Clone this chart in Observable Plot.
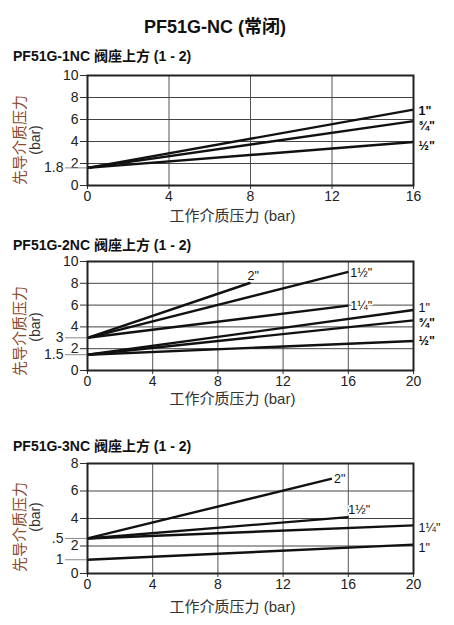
<!DOCTYPE html>
<html>
<head>
<meta charset="utf-8">
<script src="https://cdn.jsdelivr.net/npm/d3@7"></script>
<script src="https://cdn.jsdelivr.net/npm/@observablehq/plot@0.6"></script>
<style>
  body { margin: 0; background: #fff; }
  #page { position: relative; width: 454px; height: 625px; overflow: hidden;
          font-family: "Liberation Sans", "Noto Sans CJK SC", sans-serif; color: #111; }
  #page svg { position: absolute; left: 0; background: transparent; overflow: visible; }
  .title { position: absolute; left: 0; width: 430px; text-align: center; top: 12px;
           font-size: 18px; font-weight: bold; }
  .sub { position: absolute; left: 13px; font-size: 14px; font-weight: bold; }
  .yt { position: absolute; white-space: nowrap; transform: translate(-50%, -50%) rotate(-90deg);
        line-height: 1; }
  .yt.cn { font-size: 15px; color: #8a4a2c; }
  .yt.unit { font-size: 14px; color: #333; }
</style>
</head>
<body>
<div id="page">
  <div class="title">PF51G-NC (常闭)</div>
  <div class="sub" style="top:45px">PF51G-1NC 阀座上方 (1 - 2)</div>
  <div class="sub" style="top:234px">PF51G-2NC 阀座上方 (1 - 2)</div>
  <div class="sub" style="top:435px">PF51G-3NC 阀座上方 (1 - 2)</div>
</div>
<script>
// PF51G-1NC
const c1Sizes = ['1"', '¾"', '½"'];
const c1StartY = [1.6, 1.6, 1.6];
const c1EndX = [16, 16, 16];
const c1EndY = [6.9, 5.85, 3.95];
const c1XTicks = [0, 4, 8, 12, 16];
const c1YTicks = [0, 2, 4, 6, 8, 10];
const c1MarkTicks = [1.6];
const c1MarkLabels = ["1.8"];

// PF51G-2NC
const c2Sizes = ['2"', '1½"', '1¼"', '1"', '¾"', '½"'];
const c2StartY = [3, 3, 3, 1.45, 1.45, 1.45];
const c2EndX = [10, 16, 16, 20, 20, 20];
const c2EndY = [8.05, 9.05, 5.95, 5.55, 4.6, 2.7];
const c2XTicks = [0, 4, 8, 12, 16, 20];
const c2YTicks = [0, 2, 4, 6, 8, 10];
const c2MarkTicks = [3, 1.45];
const c2MarkLabels = ["3", "1.5"];

// PF51G-3NC
const c3Sizes = ['2"', '1½"', '1¼"', '1"'];
const c3StartY = [2.55, 2.55, 2.55, 1.0];
const c3EndX = [15, 16, 20, 20];
const c3EndY = [6.9, 4.1, 3.5, 2.1];
const c3XTicks = [0, 4, 8, 12, 16, 20];
const c3YTicks = [0, 2, 4, 6, 8];
const c3MarkTicks = [2.55, 1];
const c3MarkLabels = [".5", "1"];

const yTitle = "先导介质压力";
const yUnit = "(bar)";
const xTitle = "工作介质压力 (bar)";
const font = '"Liberation Sans", "Noto Sans CJK SC", sans-serif';

function chart(c) {
  const rows = c.sizes.map((s, i) => ({size: s, x0: 0, y0: c.startY[i], x1: c.endX[i], y1: c.endY[i]}));
  const labelMarks = rows.map((r, i) => Plot.text([r], {
    x: "x1", y: "y1", text: "size",
    textAnchor: "start", dx: c.offsets[i][0], dy: c.offsets[i][1],
    fontSize: 12.5, fontWeight: c.bold[i] ? "bold" : "normal", fill: "#111",
    stroke: r.x1 < c.xMax ? "white" : null, strokeWidth: 3
  }));
  return Plot.plot({
    width: 454,
    height: 10 + c.frameH + 48,
    marginLeft: 87, marginRight: 41, marginTop: 10, marginBottom: 48,
    x: {domain: [0, c.xMax]},
    y: {domain: [0, c.yMax]},
    style: {fontFamily: font, fontSize: "14px", color: "#222", background: "transparent", overflow: "visible"},
    marks: [
      Plot.gridX(c.xTicks, {stroke: "#555", strokeOpacity: 1}),
      Plot.gridY(c.yTicks, {stroke: "#444", strokeOpacity: 1}),
      Plot.axisX(c.xTicks, {tickSize: 4, tickPadding: 2, label: null, fontSize: 14, stroke: "#333"}),
      Plot.axisY(c.yTicks, {tickSize: 7, tickPadding: 2, label: null, fontSize: 14, stroke: "#333"}),
      Plot.axisY(c.markTicks, {tickSize: 22, tickPadding: 2, label: null, fontSize: 14, stroke: "#888",
        tickFormat: d => c.markLabels[c.markTicks.indexOf(d)]}),
      Plot.link(rows, {x1: "x0", y1: "y0", x2: "x1", y2: "y1", stroke: "#111", strokeWidth: 2.4}),
      Plot.frame({stroke: "#222", strokeWidth: 2}),
      ...labelMarks,
      Plot.text([xTitle], {frameAnchor: "bottom", text: d => d, dx: -18, dy: c.xt,
        fontSize: 15, fill: "#333"})
    ]
  });
}

const configs = [
  {top: 65, frameH: 110, xMax: 16, yMax: 10, sizes: c1Sizes, startY: c1StartY, endX: c1EndX, endY: c1EndY,
   xTicks: c1XTicks, yTicks: c1YTicks, markTicks: c1MarkTicks, markLabels: c1MarkLabels,
   offsets: [[5, 1], [5, 5], [5, 4]], bold: [true, true, true], yt: [140, 140], xt: 35},
  {top: 251, frameH: 109, xMax: 20, yMax: 10, sizes: c2Sizes, startY: c2StartY, endX: c2EndX, endY: c2EndY,
   xTicks: c2XTicks, yTicks: c2YTicks, markTicks: c2MarkTicks, markLabels: c2MarkLabels,
   offsets: [[-3, -7], [2, 1], [2, 0], [5, -2], [5, 3], [5, 0]], bold: [false, false, false, false, true, true],
   yt: [331, 327], xt: 33},
  {top: 453, frameH: 110, xMax: 20, yMax: 8, sizes: c3Sizes, startY: c3StartY, endX: c3EndX, endY: c3EndY,
   xTicks: c3XTicks, yTicks: c3YTicks, markTicks: c3MarkTicks, markLabels: c3MarkLabels,
   offsets: [[2, 0], [0, -7], [5, 3], [5, 3]], bold: [false, false, false, false],
   yt: [527, 517], xt: 38}
];

const page = document.querySelector("#page");
configs.forEach(c => {
  const svg = chart(c);
  svg.style.top = c.top + "px";
  page.insertBefore(svg, page.querySelector(".title"));
  const cn = document.createElement("div");
  cn.className = "yt cn";
  cn.textContent = yTitle;
  cn.style.left = "19px";
  cn.style.top = c.yt[0] + "px";
  page.append(cn);
  const unit = document.createElement("div");
  unit.className = "yt unit";
  unit.textContent = yUnit;
  unit.style.left = "35px";
  unit.style.top = c.yt[1] + "px";
  page.append(unit);
});
</script>
</body>
</html>
